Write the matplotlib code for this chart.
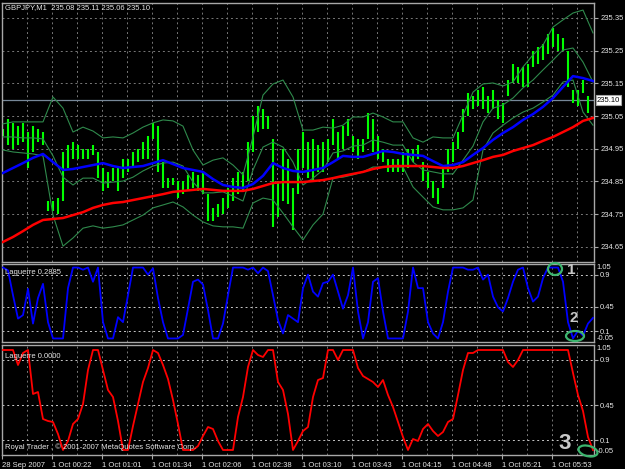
import numpy as np
import matplotlib
matplotlib.use("Agg")
import matplotlib.pyplot as plt
from matplotlib.patches import Ellipse

plt.rcParams['font.family'] = ['Liberation Sans', 'DejaVu Sans']

# GBPJPY M1 bars (high / low), one every 5 slots
bar_high = [235.01, 235.04, 235.03, 235.02, 235.03, 235.00, 235.02, 235.01, 235.00, 234.79,
            234.79, 234.80, 234.94, 234.96, 234.97, 234.96, 234.95, 234.95, 234.96, 234.94,
            234.89, 234.88, 234.89, 234.89, 234.92, 234.92, 234.94, 234.95, 234.97, 234.99,
            235.03, 235.02, 234.91, 234.86, 234.86, 234.85, 234.85, 234.87, 234.88, 234.87,
            234.88, 234.81, 234.77, 234.78, 234.80, 234.83, 234.86, 234.88, 234.88, 234.97,
            235.05, 235.08, 235.07, 235.05, 234.98, 234.85, 234.95, 234.92, 234.83, 234.95,
            235.00, 234.97, 234.98, 234.96, 234.97, 234.98, 235.04, 235.00, 235.02, 235.04,
            234.99, 234.98, 234.98, 235.06, 235.04, 234.99, 234.95, 234.92, 234.92, 234.92,
            234.94, 234.95, 234.95, 234.96, 234.91, 234.88, 234.85, 234.83, 234.89, 234.95,
            234.97, 235.00, 235.07, 235.12, 235.11, 235.13, 235.14, 235.11, 235.13, 235.10,
            235.09, 235.16, 235.21, 235.20, 235.20, 235.21, 235.25, 235.26, 235.27, 235.30,
            235.32, 235.30, 235.29, 235.25, 235.13, 235.13, 235.16, 235.11]
bar_low = [234.99, 234.96, 234.95, 234.96, 234.97, 234.89, 234.94, 234.97, 234.96, 234.76,
           234.76, 234.75, 234.79, 234.89, 234.92, 234.92, 234.92, 234.92, 234.93, 234.86,
           234.82, 234.83, 234.85, 234.82, 234.86, 234.88, 234.89, 234.91, 234.92, 234.92,
           234.98, 234.88, 234.83, 234.83, 234.84, 234.80, 234.81, 234.82, 234.83, 234.82,
           234.81, 234.73, 234.73, 234.74, 234.75, 234.77, 234.79, 234.81, 234.82, 234.85,
           234.94, 235.00, 235.01, 235.01, 234.71, 234.74, 234.79, 234.78, 234.70, 234.81,
           234.89, 234.86, 234.85, 234.88, 234.88, 234.91, 234.96, 234.92, 234.95, 234.99,
           234.94, 234.92, 234.94, 234.98, 234.94, 234.92, 234.91, 234.88, 234.88, 234.88,
           234.88, 234.89, 234.91, 234.92, 234.85, 234.83, 234.80, 234.78, 234.83, 234.88,
           234.91, 234.95, 235.00, 235.05, 235.07, 235.08, 235.07, 235.06, 235.07, 235.04,
           235.03, 235.11, 235.15, 235.15, 235.14, 235.14, 235.20, 235.21, 235.22, 235.24,
           235.26, 235.25, 235.25, 235.14, 235.09, 235.08, 235.12, 235.06]

# moving averages and Bollinger bands, one every 10 slots
ma_blue = [234.876, 234.891, 234.906, 234.922, 234.934, 234.909, 234.885, 234.888, 234.894, 234.900,
           234.906, 234.897, 234.891, 234.894, 234.897, 234.906, 234.915, 234.903, 234.891, 234.885,
           234.879, 234.857, 234.839, 234.833, 234.830, 234.842, 234.867, 234.906, 234.891, 234.882,
           234.879, 234.885, 234.891, 234.909, 234.928, 234.925, 234.925, 234.934, 234.943, 234.940,
           234.934, 234.931, 234.928, 234.912, 234.897, 234.900, 234.909, 234.931, 234.952, 234.977,
           234.998, 235.016, 235.038, 235.056, 235.078, 235.105, 235.139, 235.172, 235.166, 235.157]
ma_red = [234.665, 234.680, 234.698, 234.717, 234.732, 234.735, 234.738, 234.747, 234.756, 234.769,
          234.778, 234.784, 234.787, 234.793, 234.799, 234.805, 234.811, 234.818, 234.821, 234.824,
          234.827, 234.824, 234.821, 234.821, 234.821, 234.827, 234.836, 234.845, 234.848, 234.848,
          234.848, 234.851, 234.854, 234.860, 234.867, 234.873, 234.879, 234.888, 234.894, 234.897,
          234.897, 234.897, 234.897, 234.894, 234.891, 234.891, 234.897, 234.906, 234.915, 234.925,
          234.931, 234.943, 234.952, 234.961, 234.974, 234.986, 235.001, 235.016, 235.035, 235.044]
bb_upper = [235.026, 235.032, 235.032, 235.032, 235.032, 235.108, 235.074, 235.001, 235.016, 235.004,
            234.983, 234.986, 234.983, 234.998, 235.016, 235.029, 235.038, 235.035, 235.019, 234.946,
            234.900, 234.915, 234.922, 234.900, 234.870, 234.986, 235.114, 235.148, 235.160, 235.108,
            235.007, 235.007, 235.016, 235.013, 235.022, 235.047, 235.047, 235.059, 235.047, 235.032,
            235.032, 234.983, 234.970, 234.986, 234.983, 234.983, 235.053, 235.123, 235.148, 235.151,
            235.142, 235.154, 235.200, 235.237, 235.267, 235.322, 235.344, 235.365, 235.374, 235.304]
bb_mid = [234.986, 234.986, 234.983, 234.983, 234.980, 234.928, 234.863, 234.839, 234.860, 234.860,
          234.845, 234.848, 234.851, 234.863, 234.882, 234.897, 234.906, 234.909, 234.897, 234.848,
          234.815, 234.815, 234.818, 234.805, 234.790, 234.885, 234.955, 234.970, 234.955, 234.909,
          234.839, 234.860, 234.885, 234.937, 234.943, 234.958, 234.961, 234.977, 234.970, 234.961,
          234.961, 234.909, 234.885, 234.879, 234.873, 234.873, 234.915, 234.958, 235.032, 235.074,
          235.084, 235.105, 235.136, 235.160, 235.191, 235.221, 235.252, 235.258, 235.215, 235.154]
bb_lower = [234.946, 234.940, 234.937, 234.934, 234.928, 234.747, 234.652, 234.677, 234.707, 234.714,
            234.707, 234.711, 234.717, 234.732, 234.747, 234.769, 234.778, 234.787, 234.772, 234.747,
            234.726, 234.714, 234.711, 234.711, 234.707, 234.784, 234.799, 234.793, 234.753, 234.711,
            234.671, 234.717, 234.750, 234.860, 234.863, 234.870, 234.879, 234.894, 234.894, 234.894,
            234.894, 234.833, 234.802, 234.772, 234.763, 234.763, 234.769, 234.793, 234.946, 234.998,
            235.022, 235.044, 235.062, 235.074, 235.093, 235.114, 235.154, 235.160, 235.062, 235.022]

# Laguerre indicators, one every 5 slots
lag_blue = [1.0, 0.96, 0.61, 0.28, 0.33, 0.70, 0.21, 0.57, 0.77, 0.23,
            0.0, 0.0, 0.0, 0.71, 1.0, 1.0, 0.97, 1.0, 0.80, 1.0,
            0.23, 0.0, 0.0, 0.30, 0.23, 0.61, 1.0, 1.0, 1.0, 0.90,
            0.99, 0.57, 0.23, 0.0, 0.0, 0.0, 0.05, 0.42, 0.80, 0.83,
            0.76, 0.40, 0.0, 0.0, 0.21, 0.61, 1.0, 1.0, 1.0, 0.97,
            1.0, 0.92, 1.0, 0.95, 0.61, 0.26, 0.07, 0.33, 0.28, 0.23,
            0.71, 0.90, 0.66, 0.59, 0.78, 0.80, 0.90, 0.66, 0.42, 0.61,
            1.0, 0.38, 0.0, 0.23, 0.80, 0.85, 0.38, 0.0, 0.0, 0.0,
            0.0, 0.38, 1.0, 0.71, 0.71, 0.23, 0.07, 0.0, 0.23, 0.66,
            1.0, 1.0, 1.0, 0.97, 0.97, 1.0, 0.83, 0.90, 0.59, 0.44,
            0.38, 0.57, 0.80, 0.97, 1.0, 0.71, 0.52, 0.59, 0.85, 1.0,
            1.0, 1.0, 0.80, 0.23, 0.0, 0.11, 0.04, 0.21, 0.29]
lag_red = [1.0, 1.0, 1.0, 0.85, 0.97, 1.0, 0.56, 0.58, 0.31, 0.29,
           0.28, 0.16, 0.0, 0.09, 0.26, 0.31, 0.46, 0.80, 1.0, 1.0,
           0.80, 0.60, 0.53, 0.29, 0.0, 0.0, 0.24, 0.46, 0.68, 0.82,
           1.0, 0.97, 0.85, 0.71, 0.50, 0.26, 0.0, 0.0, 0.0, 0.04,
           0.14, 0.23, 0.21, 0.09, 0.0, 0.0, 0.0, 0.33, 0.53, 0.83,
           1.0, 0.95, 0.93, 1.0, 1.0, 0.68, 0.60, 0.36, 0.0, 0.09,
           0.19, 0.23, 0.53, 0.70, 0.72, 1.0, 1.0, 0.90, 1.0, 1.0,
           1.0, 0.82, 0.74, 0.71, 0.68, 0.63, 0.70, 0.55, 0.43, 0.28,
           0.13, 0.0, 0.11, 0.09, 0.21, 0.26, 0.19, 0.14, 0.18, 0.28,
           0.31, 0.55, 0.80, 0.97, 0.97, 1.0, 1.0, 1.0, 1.0, 1.0,
           1.0, 0.88, 0.83, 0.90, 1.0, 1.0, 1.0, 1.0, 1.0, 1.0,
           1.0, 1.0, 1.0, 1.0, 0.77, 0.55, 0.39, 0.13, 0.0]

price_ticks = [234.65, 234.75, 234.85, 234.95, 235.05, 235.15, 235.25, 235.35]
lag_levels = [0.9, 0.45, 0.1]
time_labels = ['28 Sep 2007', '1 Oct 00:22', '1 Oct 01:01', '1 Oct 01:34', '1 Oct 02:06',
               '1 Oct 02:38', '1 Oct 03:10', '1 Oct 03:43', '1 Oct 04:15', '1 Oct 04:48',
               '1 Oct 05:21', '1 Oct 05:53']
bid = 235.10
title = 'GBPJPY,M1  235.08 235.11 235.06 235.10'

bar_x = np.arange(len(bar_high)) * 5
line_x = np.arange(len(ma_blue)) * 10
lag_x = np.arange(len(lag_blue)) * 5

W, H = 625, 469
fig = plt.figure(figsize=(W / 100, H / 100), dpi=100, facecolor='black')


def box(x0, y0, x1, y1):
    return [x0 / W, 1 - y1 / H, (x1 - x0) / W, (y1 - y0) / H]


ax_p = fig.add_axes(box(2, 3, 594, 262))
ax_b = fig.add_axes(box(2, 264, 594, 342))
ax_r = fig.add_axes(box(2, 345, 594, 455))

txt = '#e6e6e6'
grid_kw = dict(color='#787878', lw=0.7, ls=(0, (2, 3)))
vgrid = np.arange(24, 591, 25)

for ax in (ax_p, ax_b, ax_r):
    ax.set_facecolor('black')
    ax.set_xlim(-1, 591)
    for s in ax.spines.values():
        s.set_color('#a8a8a8')
        s.set_linewidth(1.0)
    for gx in vgrid:
        ax.axvline(gx, zorder=0, **grid_kw)
    ax.yaxis.tick_right()
    ax.tick_params(axis='y', colors='#a8a8a8', labelcolor=txt, length=3,
                   labelsize=5.5, pad=1.5)

# price panel
ax_p.set_ylim(234.6035, 235.3956)
for lv in price_ticks:
    ax_p.axhline(lv, zorder=0, **grid_kw)
ax_p.axhline(bid, color='#778899', lw=0.9, zorder=1)
ax_p.vlines(bar_x, bar_low, bar_high, color='#00ff00', lw=1.5, zorder=2)
for band in (bb_upper, bb_mid, bb_lower):
    ax_p.plot(line_x, band, color='#2f8a4c', lw=0.8, zorder=3)
ax_p.plot(line_x, ma_blue, color='#0000ff', lw=1.8, zorder=4)
ax_p.plot(line_x, ma_red, color='#ff0000', lw=1.8, zorder=5)
ax_p.set_yticks(price_ticks)
ax_p.set_yticklabels([f'{v:.2f}' for v in price_ticks])
ax_p.set_xticks([])

# Laguerre panels
for ax, vals, col, lab in ((ax_b, lag_blue, '#0000ff', 'Laguerre 0.2885'),
                           (ax_r, lag_red, '#ff0000', 'Laguerre 0.0000')):
    ax.set_ylim(-0.05, 1.05)
    for lv in lag_levels:
        ax.axhline(lv, color='#c8c8c8', lw=0.7, ls=(0, (2, 3)), zorder=0)
    ax.plot(lag_x, vals, color=col, lw=1.3, zorder=3)
    ax.set_yticks(lag_levels)
    ax.set_yticklabels(['0.9', '0.45', '0.1'])
    ax.text(1.004, 1.0, '1.05', transform=ax.transAxes, color=txt, fontsize=5.5,
            va='top', ha='left')
    ax.text(1.004, 0.0, '-0.05', transform=ax.transAxes, color=txt, fontsize=5.5,
            va='bottom', ha='left')
    ax.text(0.005, 0.93, lab, transform=ax.transAxes, color=txt, fontsize=5.5,
            va='top', ha='left', zorder=6)

ax_b.set_xticks([])
ax_r.set_xticks(np.arange(len(time_labels)) * 50 - 1)
ax_r.set_xticklabels(time_labels, ha='left')
ax_r.tick_params(axis='x', colors='#a8a8a8', labelcolor=txt, length=3,
                 labelsize=5.5, pad=2)
ax_r.text(0.005, 0.04, 'Royal Trader , \u00a9 2001-2007 MetaQuotes Software Corp.',
          transform=ax_r.transAxes, color=txt, fontsize=5.5, va='bottom', ha='left', zorder=6)

# header and bid label
fig.text(5 / W, 1 - 8 / H, title, color=txt, fontsize=5.5, va='center', ha='left')
fig.text(597 / W, 1 - 100 / H, f'{bid:.2f}', color='black', fontsize=5.5, va='center',
         ha='left', bbox=dict(boxstyle='square,pad=0.15', fc='white', ec='#a8a8a8', lw=0.8))

# hand-drawn marks
green = '#3cb46e'
for cx, cy, w, h, ang in ((555, 269, 14, 12, 0), (575, 336, 18, 10, 0), (588, 451, 20, 10, -25)):
    fig.add_artist(Ellipse((cx / W, 1 - cy / H), w / W, h / H, angle=ang,
                           transform=fig.transFigure, fill=False, ec=green, lw=1.6))
for tx, ty, s, fs in ((571, 270, '1', 11), (574, 318, '2', 11), (565, 443, '3', 16)):
    fig.text(tx / W, 1 - ty / H, s, color='#c8c8c8', fontsize=fs, fontweight='bold',
             va='center', ha='center')

fig.savefig('out.png', dpi=100, facecolor='black')
